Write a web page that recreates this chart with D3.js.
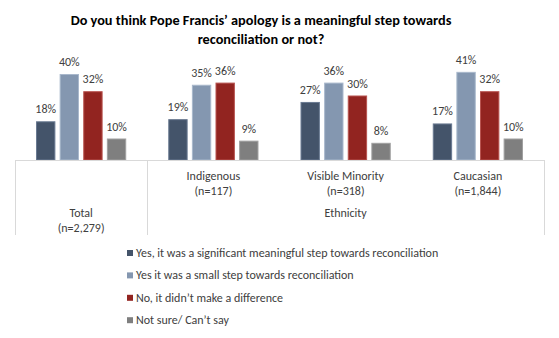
<!DOCTYPE html>
<html>
<head>
<meta charset="utf-8">
<script src="https://cdn.jsdelivr.net/npm/d3@7"></script>
<style>
  body { margin: 0; background: #fff; }
  svg { display: block; font-family: Calibri, Carlito, Lato, sans-serif; }
</style>
</head>
<body>
<div id="chart"></div>
<script>
// survey groups along the x axis
const groups = ['Total', 'Indigenous', 'Visible Minority', 'Caucasian'];
const groupSizes = ['(n=2,279)', '(n=117)', '(n=318)', '(n=1,844)'];

// answer options (legend order)
const answers = [
  'Yes, it was a significant meaningful step towards reconciliation',
  'Yes it was a small step towards reconciliation',
  'No, it didn\u2019t make a difference',
  'Not sure/ Can\u2019t say'
];

// percentages per answer, one value per group
const significantStep = [18, 19, 27, 17];
const smallStep = [40, 35, 36, 41];
const noDifference = [32, 36, 30, 32];
const notSure = [10, 9, 8, 10];

const colors = ['#44546a', '#8497b0', '#922420', '#7f7f7f'];
const strokes = ['#6a7a92', '#a9b8cc', '#b85450', '#a0a0a0'];

const titleLines = [
  'Do you think Pope Francis\u2019 apology is a meaningful step towards',
  'reconciliation or not?'
];

const W = 559, H = 338;
const baseY = 160;

const seriesValues = [significantStep, smallStep, noDifference, notSure];
const rows = groups.map((g, i) => ({
  group: g,
  values: answers.map((a, j) => ({ answer: a, idx: j, value: seriesValues[j][i] }))
}));

const svg = d3.select('#chart').append('svg')
  .attr('width', W).attr('height', H)
  .attr('viewBox', [0, 0, W, H]);

// title
svg.append('g').selectAll('text')
  .data(titleLines)
  .join('text')
  .attr('x', 261)
  .attr('y', (d, i) => 25 + i * 19)
  .attr('text-anchor', 'middle')
  .attr('font-weight', 'bold')
  .attr('font-size', 14.3)
  .attr('fill', '#000')
  .text(d => d);

// scales
const x0 = d3.scaleBand()
  .domain(groups)
  .range([15, 544]);

const x1 = d3.scaleBand()
  .domain(d3.range(answers.length))
  .range([0, x0.bandwidth()])
  .paddingInner(0.18)
  .paddingOuter(0.89);

const y = d3.scaleLinear()
  .domain([0, 45])
  .range([baseY, baseY - 45 * 2.15]);

// bars
const grp = svg.append('g').attr('class', 'bars')
  .selectAll('g')
  .data(rows)
  .join('g')
  .attr('transform', d => `translate(${x0(d.group)},0)`);

grp.selectAll('rect')
  .data(d => d.values)
  .join('rect')
  .attr('x', d => x1(d.idx) + 0.5)
  .attr('y', d => y(d.value) + 0.5)
  .attr('width', x1.bandwidth() - 1)
  .attr('height', d => y(0) - y(d.value) - 0.5)
  .attr('fill', d => colors[d.idx])
  .attr('stroke', d => strokes[d.idx])
  .attr('stroke-width', 1);

// value labels
grp.selectAll('text')
  .data(d => d.values)
  .join('text')
  .attr('x', d => x1(d.idx) + x1.bandwidth() / 2)
  .attr('y', d => y(d.value) - 8)
  .attr('text-anchor', 'middle')
  .attr('font-size', 12)
  .attr('fill', '#404040')
  .text(d => d.value + '%');

// category axis box
const axis = svg.append('g').attr('class', 'x-axis')
  .attr('stroke', '#d9d9d9').attr('stroke-width', 1);

axis.append('line')
  .attr('x1', x0.range()[0]).attr('x2', x0.range()[1])
  .attr('y1', baseY + 0.5).attr('y2', baseY + 0.5);

const dividers = [x0.range()[0], x0(groups[1]), x0.range()[1]];
axis.selectAll('line.div')
  .data(dividers)
  .join('line')
  .attr('class', 'div')
  .attr('x1', d => Math.round(d) + 0.5).attr('x2', d => Math.round(d) + 0.5)
  .attr('y1', baseY).attr('y2', 235);

// group labels
const labelG = svg.append('g')
  .attr('font-size', 12)
  .attr('fill', '#404040')
  .attr('text-anchor', 'middle');

groups.forEach((g, i) => {
  const cx = x0(g) + x0.bandwidth() / 2;
  const top = i === 0 ? 217 : 180;
  labelG.append('text').attr('x', cx).attr('y', top).text(g);
  labelG.append('text').attr('x', cx).attr('y', top + 14.5).text(groupSizes[i]);
});

// parent category
labelG.append('text')
  .attr('x', (x0(groups[1]) + x0.range()[1]) / 2)
  .attr('y', 217)
  .text('Ethnicity');

// legend
const legend = svg.append('g')
  .attr('transform', 'translate(127,253)')
  .selectAll('g')
  .data(answers)
  .join('g')
  .attr('transform', (d, i) => `translate(0,${i * 22.4})`);

legend.append('rect')
  .attr('x', 0).attr('y', -3)
  .attr('width', 6).attr('height', 6)
  .attr('fill', (d, i) => colors[i]);

legend.append('text')
  .attr('x', 9)
  .attr('y', 4)
  .attr('font-size', 12)
  .attr('fill', '#404040')
  .text(d => d);
</script>
</body>
</html>
